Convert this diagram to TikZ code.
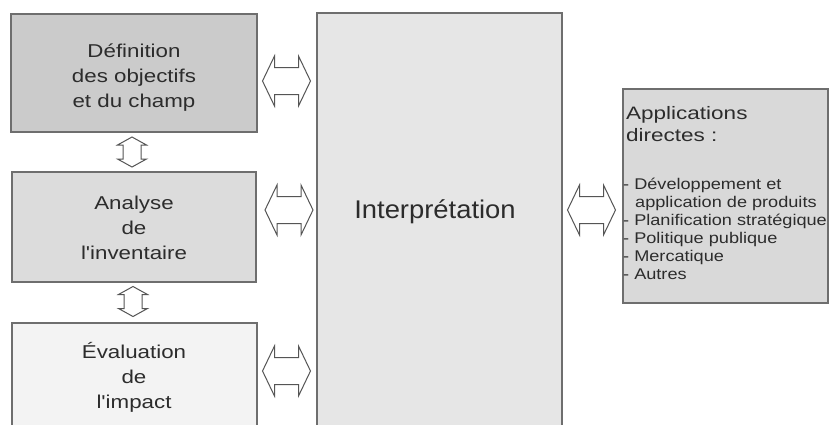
\documentclass[tikz,border=0pt]{standalone}
\usepackage{fontspec}
\setmainfont{Liberation Sans}
\newfontfamily\boxfont[FakeStretch=1.2]{Liberation Sans}
\newfontfamily\titlefont[FakeStretch=1.25]{Liberation Sans}
\newfontfamily\listfont[FakeStretch=1.17]{Liberation Sans}
\newfontfamily\bigfont[FakeStretch=1.07]{Liberation Sans}
\definecolor{edgegray}{HTML}{6E6E6E}
\definecolor{arrowgray}{HTML}{555555}
\definecolor{textgray}{HTML}{2C2C2C}
\definecolor{fillA}{HTML}{CBCBCB}
\definecolor{fillB}{HTML}{DCDCDC}
\definecolor{fillC}{HTML}{F3F3F3}
\definecolor{fillD}{HTML}{E6E6E6}
\definecolor{fillE}{HTML}{D9D9D9}
% horizontal double block arrow centred at (#1,#2)
\newcommand{\hblockarrow}[2]{%
  \draw[blockarrow, shift={(#1,#2)}] (-24,0) -- (-12,-25) -- (-12,-13.5) -- (12,-13.5) -- (12,-25)
    -- (24,0) -- (12,25) -- (12,13.5) -- (-12,13.5) -- (-12,25) -- cycle;}
% vertical double block arrow centred at (#1,#2)
\newcommand{\vblockarrow}[2]{%
  \draw[blockarrow, shift={(#1,#2)}] (0,-15) -- (14.5,-7) -- (9,-7) -- (9,7) -- (14.5,7)
    -- (0,15) -- (-14.5,7) -- (-9,7) -- (-9,-7) -- (-14.5,-7) -- cycle;}
\begin{document}
\begin{tikzpicture}[x=1pt,y=-1pt,
  stage/.style={draw=edgegray, line width=1.3pt, inner sep=0pt, outer sep=0pt},
  txt/.style={text=textgray, align=center, inner sep=0pt, font=\boxfont\fontsize{18.6}{25}\selectfont},
  ltxt/.style={text=textgray, inner sep=0pt, anchor=base west},
  listtxt/.style={ltxt, font=\listfont\fontsize{15.5}{18}\selectfont},
  blockarrow/.style={draw=arrowgray, fill=white, line width=1pt, line join=miter}]
\useasboundingbox (0,0) rectangle (829,424);
\clip (0,0) rectangle (829,424);
\fill[white] (0,0) rectangle (829,424);

% boxes
\node[stage, fill=fillA, minimum width=246pt, minimum height=118pt] (b1) at (134,73) {};
\node[stage, fill=fillB, minimum width=244pt, minimum height=110pt] (b2) at (134,227) {};
\node[stage, fill=fillC, minimum width=245pt, minimum height=117pt] (b3) at (134.5,381.5) {};
\node[stage, fill=fillD, minimum width=245pt, minimum height=427pt] (ip) at (439.5,226.5) {};
\node[stage, fill=fillE, minimum width=205pt, minimum height=214pt] (ap) at (725.5,196) {};

% texts
\node[txt] (t1) at (134,78) {Définition\\des objectifs\\et du champ};
\node[txt] (t2) at (134,228) {Analyse\\de\\l'inventaire};
\node[txt] (t3) at (134,377) {Évaluation\\de\\l'impact};
\node[text=textgray, inner sep=0pt, font=\bigfont\fontsize{25.6}{30}\selectfont] (ti) at (435,212) {Interprétation};

\node[ltxt, font=\titlefont\fontsize{18}{24}\selectfont] (a1) at (626,119) {Applications};
\node[ltxt, font=\titlefont\fontsize{18}{24}\selectfont] (a2) at (626,141) {directes :};
\node[listtxt] (l1) at (623,189) {- Développement et};
\node[listtxt] (l2) at (635,207) {application de produits};
\node[listtxt] (l3) at (623,225) {- Planification stratégique};
\node[listtxt] (l4) at (623,243) {- Politique publique};
\node[listtxt] (l5) at (623,261) {- Mercatique};
\node[listtxt] (l6) at (623,279) {- Autres};

% double block arrows between the stages
\hblockarrow{286.5}{81}
\hblockarrow{289}{210}
\hblockarrow{286.5}{371}
\hblockarrow{591.5}{210}
\vblockarrow{132}{152}
\vblockarrow{133}{301.5}
\end{tikzpicture}
\end{document}
